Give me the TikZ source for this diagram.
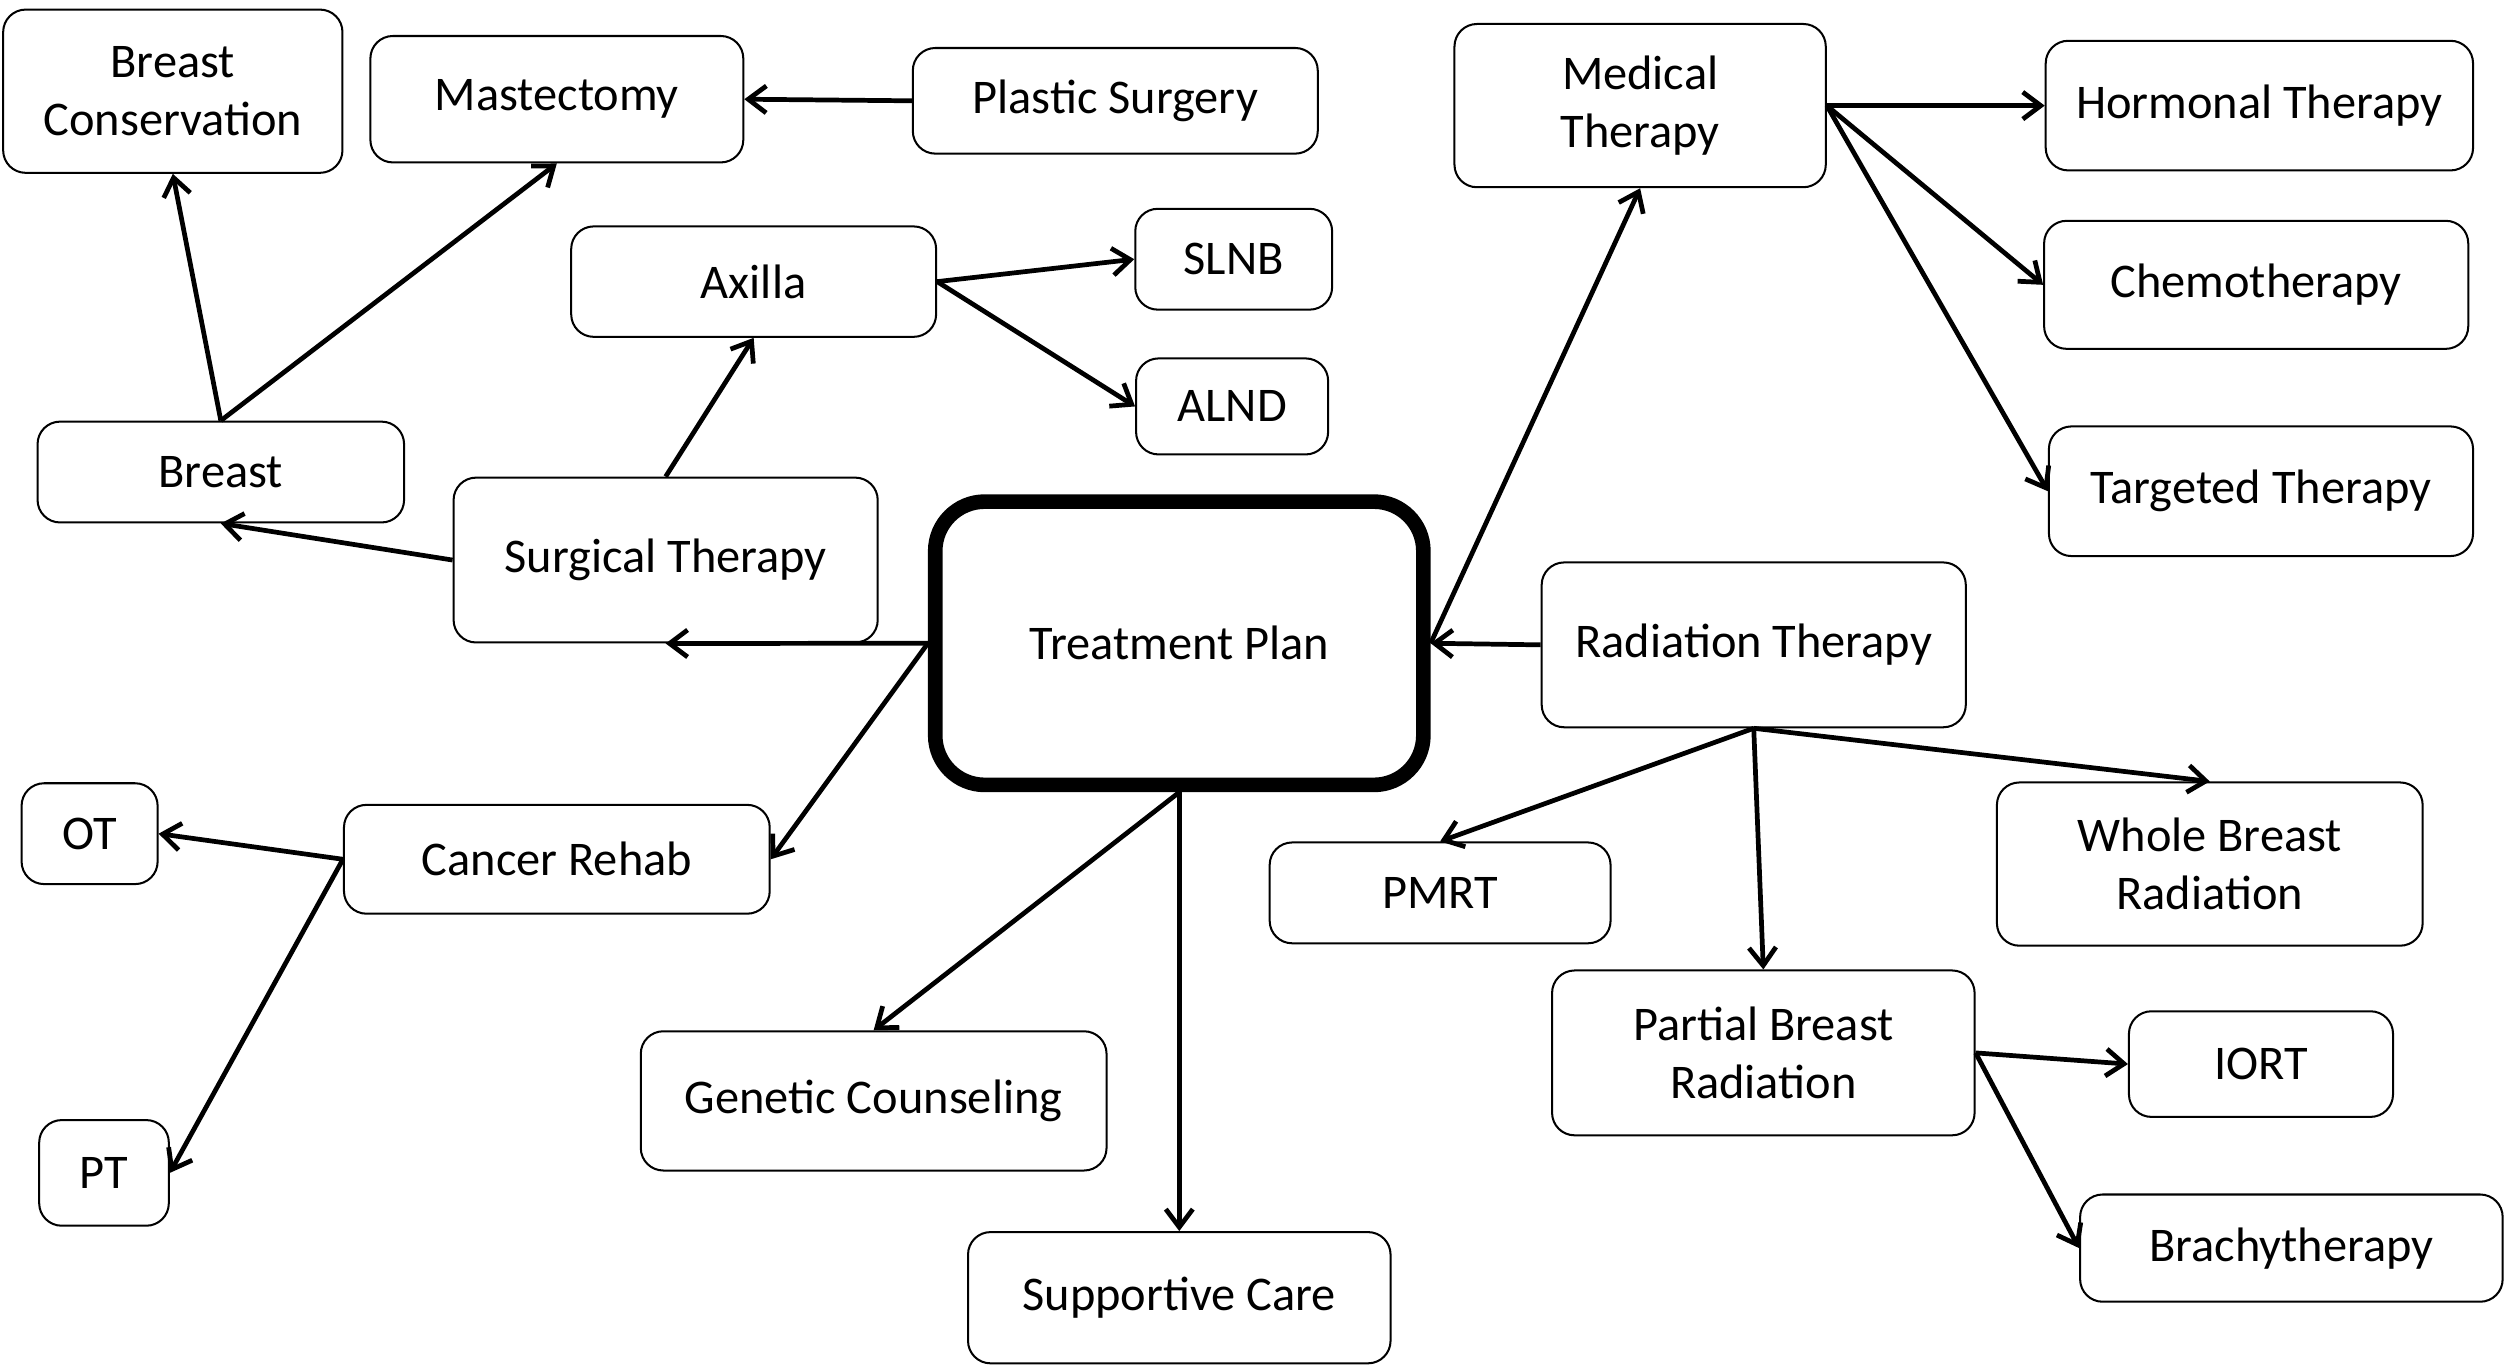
\documentclass[tikz,border=0pt]{standalone}
\usepackage{fontspec}
\setmainfont{Carlito}
\usetikzlibrary{arrows.meta}

\begin{document}
\begin{tikzpicture}[x=0.025cm,y=-0.025cm,
  box/.style 2 args={draw,rounded corners=10pt,line width=0.9pt,align=center,
    minimum width=#1*0.25mm,minimum height=#2*0.25mm,inner sep=0pt,
    font=\fontsize{21.5}{26}\selectfont},
  planbox/.style={box={305}{177},line width=6.5pt,rounded corners=22pt},
  link/.style={line width=2.1pt,-{Straight Barb[length=8pt,width=12pt]}}]
  \useasboundingbox (0,0) rectangle (1568,855);

  \node[planbox] (plan) at (737,402) {Treatment Plan};

  \node[box={265}{103}] (surg) at (416,350) {Surgical Therapy};
  \node[box={229}{63}] (breast) at (138,295) {Breast};
  \node[box={212}{102}] (cons) at (108,57) {Breast\\Conservation};
  \node[box={233}{79}] (mast) at (348,62) {Mastectomy};
  \node[box={253}{66}] (plastic) at (697,63) {Plastic Surgery};
  \node[box={228}{69}] (axilla) at (471,176) {Axilla};
  \node[box={123}{63}] (slnb) at (771,162) {SLNB};
  \node[box={120}{60}] (alnd) at (770,254) {ALND};

  \node[box={266}{68}] (rehab) at (348,537) {Cancer Rehab};
  \node[box={85}{63}] (ot) at (56,521) {OT};
  \node[box={81}{66}] (pt) at (65,733) {PT};
  \node[box={291}{87}] (genetic) at (546,688) {Genetic Counseling};
  \node[box={264}{82}] (support) at (737,811) {Supportive Care};

  \node[box={232}{102}] (medical) at (1025,66) {Medical\\Therapy};
  \node[box={267}{81}] (hormonal) at (1412,66) {Hormonal Therapy};
  \node[box={265}{80}] (chemo) at (1410,178) {Chemotherapy};
  \node[box={265}{81}] (targeted) at (1413,307) {Targeted Therapy};

  \node[box={265}{103}] (radiation) at (1096,403) {Radiation Therapy};
  \node[box={213}{63}] (pmrt) at (900,558) {PMRT};
  \node[box={266}{102}] (whole) at (1381,540) {Whole Breast\\Radiation};
  \node[box={264}{103}] (partial) at (1102,658) {Partial Breast\\Radiation};
  \node[box={165}{66}] (iort) at (1413,665) {IORT};
  \node[box={264}{67}] (brachy) at (1432,780) {Brachytherapy};

  \draw[link] (plastic.west) -- (mast.east);
  \draw[link] (breast.north) -- (cons.south);
  \draw[link] (breast.north) -- (mast.south);
  \draw[link] (surg.north) -- (axilla.south);
  \draw[link] (axilla.east) -- (slnb.west);
  \draw[link] (axilla.east) -- (alnd.west);
  \draw[link] (surg.west) -- (breast.south);
  \draw[link] (plan.west) -- (surg.south);
  \draw[link] (plan.west) -- (rehab.east);
  \draw[link] (rehab.west) -- (ot.east);
  \draw[link] (rehab.west) -- (pt.east);
  \draw[link] (plan.south) -- (genetic.north);
  \draw[link] (plan.south) -- (support.north);
  \draw[link] (plan.east) -- (medical.south);
  \draw[link] (radiation.west) -- (plan.east);
  \draw[link] (medical.east) -- (hormonal.west);
  \draw[link] (medical.east) -- (chemo.west);
  \draw[link] (medical.east) -- (targeted.west);
  \draw[link] (radiation.south) -- (pmrt.north);
  \draw[link] (radiation.south) -- (whole.north);
  \draw[link] (radiation.south) -- (partial.north);
  \draw[link] (partial.east) -- (iort.west);
  \draw[link] (partial.east) -- (brachy.west);
\end{tikzpicture}
\end{document}
